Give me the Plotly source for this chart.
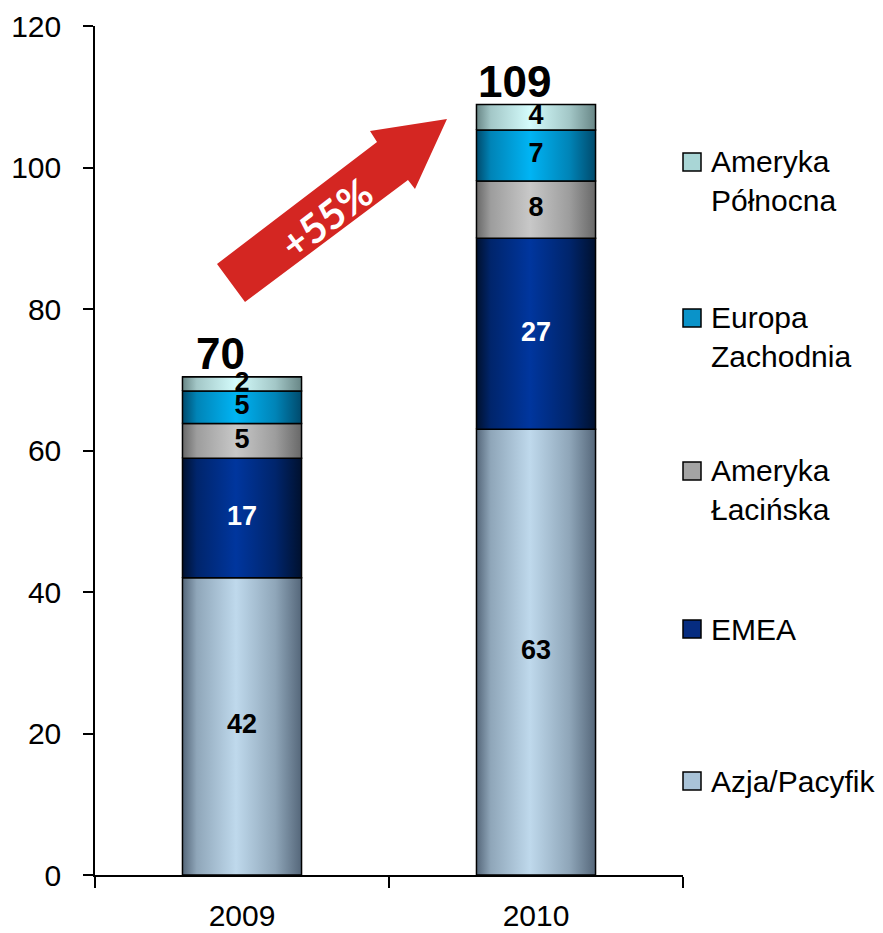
import plotly.graph_objects as go

# ---- data ----
years = ["2009", "2010"]
series_names = ["Azja/Pacyfik", "EMEA", "Ameryka Łacińska", "Europa Zachodnia", "Ameryka Północna"]
legend_labels = ["Azja/Pacyfik", "EMEA", "Ameryka<br>Łacińska", "Europa<br>Zachodnia", "Ameryka<br>Północna"]
azja_pacyfik = [42.0, 63.0]
emea = [16.9, 27.0]
ameryka_lacinska = [4.9, 8.1]
europa_zachodnia = [4.6, 7.2]
ameryka_polnocna = [2.0, 3.6]
growth_label = "+55%"
y_tick_values = [0, 20, 40, 60, 80, 100, 120]

series_values = [azja_pacyfik, emea, ameryka_lacinska, europa_zachodnia, ameryka_polnocna]
# (edge, centre) colours of the shaded cylinders
edge_colors = ["#55677A", "#00112F", "#686868", "#004A6C", "#688686"]
center_colors = ["#BFD9EC", "#00369E", "#C8C8C8", "#00B4F4", "#D4FCFC"]
flat_colors = ["#A9C3D8", "#062C80", "#A4A4A4", "#0A93C9", "#A9D6D6"]
text_colors = ["black", "white", "black", "black", "black"]

FONT = "Liberation Sans, Arial, sans-serif"
OFF = 8  # page body margin
W, H = 883, 933
ML = 95 - OFF
MT = 26 - OFF
MR = W - (683 - OFF)
MB = H - (875 - OFF)
PW, PH = W - ML - MR, H - MT - MB
BAR_W = 0.405


def px(x):
    return (x - OFF - ML) / PW


def py(y):
    return (H - MB - (y - OFF)) / PH


def mix(c1, c2, t):
    a = [int(c1[i:i + 2], 16) for i in (1, 3, 5)]
    b = [int(c2[i:i + 2], 16) for i in (1, 3, 5)]
    return "#" + "".join(f"{round(x + (y - x) * t):02x}" for x, y in zip(a, b))


def shade_scale(ec, cc):
    return [[0, ec], [0.12, mix(ec, cc, 0.55)], [0.45, cc], [0.78, mix(ec, cc, 0.55)], [1, ec]]


xpos = list(range(len(years)))
fig = go.Figure()

# solid stacked bars (base layer)
for name, vals, col in zip(series_names, series_values, flat_colors):
    fig.add_trace(go.Bar(
        x=xpos, y=vals, name=name, width=BAR_W,
        marker=dict(color=col, line=dict(color="black", width=1.5)),
        showlegend=False, hoverinfo="skip",
    ))

# shaded overlay for each stacked segment + centred value labels
bases = [0.0] * len(years)
label_traces = []
for name, vals, ec, cc, tc in zip(series_names, series_values, edge_colors, center_colors, text_colors):
    cs = shade_scale(ec, cc)
    mids = []
    for i, v in enumerate(vals):
        b0, b1 = bases[i], bases[i] + v
        x0, x1 = xpos[i] - BAR_W / 2, xpos[i] + BAR_W / 2
        fig.add_trace(go.Scatter(
            x=[x0, x1, x1, x0, x0], y=[b0, b0, b1, b1, b0],
            mode="lines", fill="toself",
            fillgradient=dict(type="horizontal", colorscale=cs),
            line=dict(color="black", width=1.5),
            showlegend=False, hoverinfo="skip", name=name,
        ))
        mids.append((b0 + b1) / 2)
        bases[i] = b1
    label_traces.append(go.Scatter(
        x=xpos, y=mids, mode="text", text=[f"{v:.0f}" for v in vals],
        textfont=dict(family=FONT, size=27, color=tc, weight="bold"),
        showlegend=False, hoverinfo="skip", cliponaxis=False,
    ))
for t in label_traces:
    fig.add_trace(t)

totals = [sum(v[i] for v in series_values) for i in range(len(years))]
annotations = []
for i, tot in enumerate(totals):
    annotations.append(dict(
        x=xpos[i], y=tot, xref="x", yref="y", text=f"<b>{tot:.0f}</b>",
        showarrow=False, xanchor="center", yanchor="bottom", xshift=-22, yshift=-3,
        font=dict(family=FONT, size=44, color="black"),
    ))

# manual legend (top item = last series)
legend_first_line_y = [781, 629, 471, 318, 162]
line_h = 38
shapes = []
for lab, col, ly in zip(legend_labels, flat_colors, legend_first_line_y):
    nlines = lab.count("<br>") + 1
    shapes.append(dict(
        type="rect", xref="paper", yref="paper",
        x0=px(683), x1=px(701), y0=py(ly + 9), y1=py(ly - 9),
        fillcolor=col, line=dict(color="black", width=1.5),
    ))
    annotations.append(dict(
        x=px(709), y=py(ly + (nlines - 1) * line_h / 2), xref="paper", yref="paper",
        text=lab, showarrow=False, xanchor="left", yanchor="middle", align="left",
        font=dict(family=FONT, size=30, color="black"),
    ))

# growth arrow
arrow_pts = [(217, 264), (377, 142), (370, 131), (447, 119), (415, 189), (408, 180), (245, 302)]
path = "M " + " L ".join(f"{px(a):.4f},{py(b):.4f}" for a, b in arrow_pts) + " Z"
shapes.append(dict(type="path", xref="paper", yref="paper", path=path,
                   fillcolor="#D42622", line=dict(width=0)))
annotations.append(dict(
    x=px(326), y=py(218), xref="paper", yref="paper", text=f"<b>{growth_label}</b>",
    showarrow=False, textangle=-37, xanchor="center", yanchor="middle",
    font=dict(family="Lato, Liberation Sans, sans-serif", size=40, color="white"),
))

fig.update_layout(
    width=W, height=H,
    margin=dict(l=ML, r=MR, t=MT, b=MB, autoexpand=False),
    barmode="stack",
    plot_bgcolor="white", paper_bgcolor="white",
    font=dict(family=FONT, size=30, color="black"),
    shapes=shapes, annotations=annotations,
    xaxis=dict(
        range=[-0.5, len(years) - 0.5], autorange=False,
        tickvals=xpos, ticktext=years, ticks="",
        minor=dict(tickvals=[i - 0.5 for i in range(len(years) + 1)], ticks="outside",
                   ticklen=11, tickwidth=1.5, tickcolor="black", showgrid=False),
        showline=True, linecolor="black", linewidth=1.5,
        ticklabelstandoff=13,
        tickfont=dict(family=FONT, size=30, color="black"),
        showgrid=False, zeroline=False,
    ),
    yaxis=dict(
        range=[0, 120], autorange=False, tickvals=y_tick_values,
        showline=True, linecolor="black", linewidth=1.5,
        ticks="outside", ticklen=10, tickwidth=1.5, tickcolor="black",
        ticklabelstandoff=16,
        tickfont=dict(family=FONT, size=30, color="black"),
        showgrid=False, zeroline=False,
    ),
)

fig.write_html("out.html")
